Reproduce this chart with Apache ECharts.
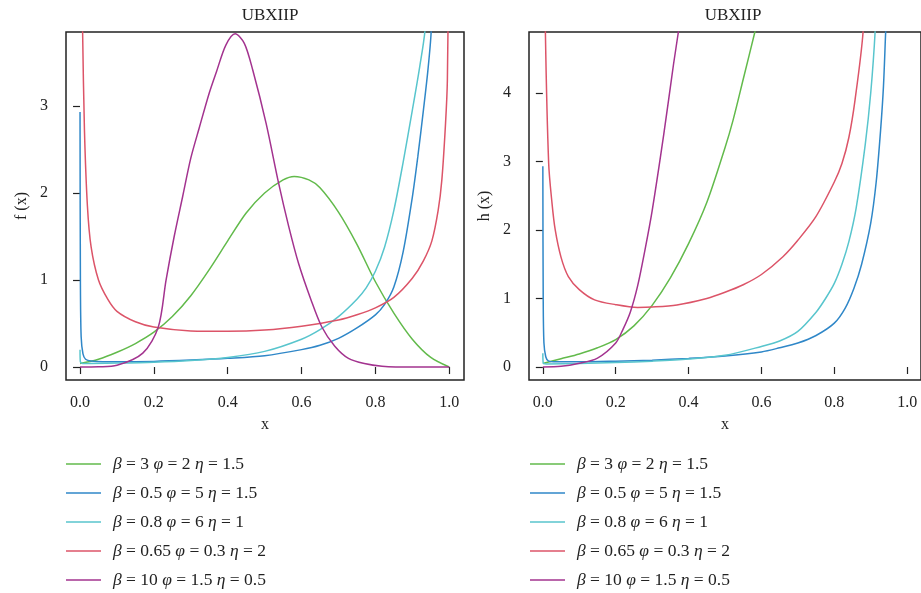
<!DOCTYPE html>
<html>
<head>
<meta charset="utf-8">
<script src="https://cdn.jsdelivr.net/npm/echarts@6/dist/echarts.min.js"></script>
<style>
  html, body { margin: 0; padding: 0; background: #fff; }
  #main { width: 921px; height: 593px; }
</style>
</head>
<body>
<div id="main"></div>
<script>
// 参数 (legend labels)
const betas = ['3', '0.5', '0.8', '0.65', '10'];
const phis = ['2', '5', '6', '0.3', '1.5'];
const etas = ['1.5', '1.5', '1', '2', '0.5'];
const colors = ['#62ba4b', '#2f87c8', '#58c5cd', '#dc5468', '#a3338f'];
const xTicks = [0, 0.2, 0.4, 0.6, 0.8, 1.0];
const fTicks = [0, 1, 2, 3];
const hTicks = [0, 1, 2, 3, 4];

// density f(x)
const fGreen = [[0,0.04],[0.05,0.09],[0.1,0.17],[0.15,0.27],[0.2,0.4],[0.25,0.58],[0.3,0.82],[0.35,1.12],[0.4,1.45],[0.45,1.77],[0.5,2.0],[0.55,2.15],[0.58,2.19],[0.62,2.15],[0.65,2.06],[0.7,1.78],[0.75,1.41],[0.8,0.98],[0.85,0.62],[0.9,0.32],[0.95,0.11],[1.0,0.0]];
const fBlue = [[0,2.93],[0.001,1.0],[0.003,0.35],[0.008,0.15],[0.015,0.09],[0.03,0.07],[0.1,0.06],[0.2,0.065],[0.3,0.08],[0.4,0.1],[0.5,0.13],[0.6,0.2],[0.65,0.25],[0.7,0.33],[0.75,0.45],[0.8,0.6],[0.825,0.72],[0.85,0.92],[0.875,1.32],[0.9,1.95],[0.915,2.42],[0.93,2.95],[0.942,3.4],[0.951,3.85],[0.96,5]];
const fCyan = [[0,0.2],[0.001,0.06],[0.01,0.04],[0.1,0.045],[0.2,0.055],[0.3,0.075],[0.4,0.11],[0.5,0.18],[0.6,0.32],[0.65,0.43],[0.7,0.58],[0.75,0.78],[0.775,0.91],[0.8,1.1],[0.825,1.38],[0.85,1.8],[0.875,2.35],[0.9,2.95],[0.92,3.45],[0.935,3.9],[0.945,5]];
const fRed = [[0.003,5],[0.007,3.85],[0.012,2.72],[0.02,1.85],[0.03,1.38],[0.05,1.0],[0.075,0.78],[0.1,0.64],[0.15,0.52],[0.2,0.46],[0.3,0.415],[0.4,0.41],[0.5,0.425],[0.6,0.47],[0.7,0.54],[0.75,0.6],[0.8,0.68],[0.85,0.8],[0.9,1.02],[0.93,1.22],[0.953,1.45],[0.97,1.8],[0.98,2.15],[0.99,2.8],[0.995,3.3],[0.999,5]];
const fPurple = [[0,0],[0.05,0.003],[0.1,0.02],[0.17,0.16],[0.212,0.46],[0.233,1.0],[0.255,1.5],[0.278,1.96],[0.3,2.4],[0.323,2.75],[0.35,3.15],[0.37,3.4],[0.395,3.7],[0.42,3.83],[0.445,3.72],[0.468,3.41],[0.504,2.8],[0.538,2.11],[0.565,1.62],[0.592,1.19],[0.625,0.78],[0.655,0.46],[0.69,0.24],[0.727,0.1],[0.77,0.04],[0.818,0.01],[0.9,0],[1.0,0]];

// hazard h(x)
const hGreen = [[0,0.05],[0.05,0.12],[0.1,0.19],[0.15,0.28],[0.2,0.4],[0.25,0.6],[0.3,0.9],[0.35,1.3],[0.4,1.8],[0.45,2.4],[0.5,3.2],[0.522,3.6],[0.55,4.2],[0.582,4.89],[0.6,5.3]];
const hBlue = [[0,2.93],[0.001,1.0],[0.003,0.35],[0.008,0.15],[0.015,0.09],[0.03,0.075],[0.1,0.075],[0.2,0.085],[0.3,0.1],[0.4,0.125],[0.5,0.16],[0.6,0.22],[0.65,0.28],[0.7,0.35],[0.75,0.46],[0.8,0.64],[0.83,0.86],[0.854,1.15],[0.875,1.5],[0.9,2.1],[0.915,2.7],[0.927,3.45],[0.935,4.1],[0.941,4.89],[0.95,6]];
const hCyan = [[0,0.2],[0.001,0.06],[0.01,0.045],[0.1,0.05],[0.2,0.065],[0.3,0.085],[0.4,0.115],[0.5,0.17],[0.6,0.3],[0.65,0.38],[0.7,0.52],[0.75,0.8],[0.776,1.0],[0.8,1.22],[0.821,1.5],[0.84,1.83],[0.86,2.32],[0.885,3.25],[0.9,4.0],[0.912,4.89],[0.92,6]];
const hRed = [[0.003,7],[0.007,4.89],[0.016,2.97],[0.025,2.4],[0.034,2.0],[0.05,1.6],[0.07,1.32],[0.1,1.13],[0.142,0.98],[0.2,0.91],[0.26,0.87],[0.3,0.875],[0.368,0.905],[0.45,1.0],[0.5,1.09],[0.55,1.2],[0.6,1.35],[0.659,1.61],[0.7,1.85],[0.749,2.19],[0.8,2.7],[0.821,2.97],[0.84,3.35],[0.857,3.9],[0.879,4.89],[0.9,7]];
const hPurple = [[0,0],[0.05,0.01],[0.097,0.05],[0.15,0.13],[0.2,0.35],[0.22,0.55],[0.24,0.8],[0.26,1.18],[0.28,1.7],[0.3,2.28],[0.332,3.4],[0.359,4.43],[0.372,4.89],[0.39,5.6]];

const names = betas.map((b, i) => 'β = ' + b + ' φ = ' + phis[i] + ' η = ' + etas[i]);
const fData = [fGreen, fBlue, fCyan, fRed, fPurple];
const hData = [hGreen, hBlue, hCyan, hRed, hPurple];

const serif = 'Liberation Serif';
const txt = '#222';

function xAxisFor(idx, max) {
  return {
    type: 'value', gridIndex: idx, min: -0.038, max: max,
    name: 'x', nameLocation: 'middle', nameGap: 37,
    nameTextStyle: { fontFamily: serif, fontSize: 16, color: txt },
    axisLine: { show: false },
    splitLine: { show: false },
    axisTick: { show: true, length: 7, lineStyle: { color: '#222', width: 1.2 }, customValues: xTicks },
    axisLabel: { fontFamily: serif, fontSize: 16, color: txt, margin: 15,
      customValues: xTicks, formatter: v => v.toFixed(1) }
  };
}
function yAxisFor(idx, min, max, ticks, label) {
  return {
    type: 'value', gridIndex: idx, min: min, max: max,
    name: label, nameLocation: 'middle', nameGap: 36, nameRotate: 90,
    nameTextStyle: { fontFamily: serif, fontSize: 16, color: txt },
    axisLine: { show: false },
    splitLine: { show: false },
    axisTick: { show: true, length: 7, lineStyle: { color: '#222', width: 1.2 }, customValues: ticks },
    axisLabel: { fontFamily: serif, fontSize: 16, color: txt, margin: 18, customValues: ticks }
  };
}

const series = [];
[fData, hData].forEach((set, g) => {
  set.forEach((d, i) => {
    series.push({
      name: names[i], type: 'line', xAxisIndex: g, yAxisIndex: g,
      data: d, symbol: 'none', smooth: 0.3,
      lineStyle: { color: colors[i], width: 1.5 }, itemStyle: { color: colors[i] },
      clip: true, z: 2 + i
    });
  });
});

function legendFor(left) {
  return {
    data: names, orient: 'vertical', left: left, top: 455, padding: 0,
    icon: 'path://M0 0H100V4H0Z', itemWidth: 35, itemHeight: 1.5,
    itemGap: 11, selectedMode: false,
    formatter: n => n.replace(/([βφη])/g, '{g|$1}'),
    textStyle: { fontFamily: serif, fontSize: 17.5, color: txt, padding: [0, 0, 0, 7], lineHeight: 17.3,
      rich: { g: { fontFamily: serif, fontSize: 17.5, fontStyle: 'italic', color: txt, lineHeight: 17.3 } } }
  };
}

const chart = echarts.init(document.getElementById('main'), null, { renderer: 'canvas' });
chart.setOption({
  backgroundColor: '#fff',
  animation: false,
  title: [
    { text: 'UBXIIP', left: 265, top: 2, textAlign: 'center',
      textStyle: { fontFamily: serif, fontSize: 17, fontWeight: 'normal', color: txt } },
    { text: 'UBXIIP', left: 728, top: 2, textAlign: 'center',
      textStyle: { fontFamily: serif, fontSize: 17, fontWeight: 'normal', color: txt } }
  ],
  grid: [
    { left: 66, top: 32, width: 398, height: 348, show: true, borderColor: '#222', borderWidth: 1.5, backgroundColor: 'transparent' },
    { left: 529, top: 32, width: 398, height: 348, show: true, borderColor: '#222', borderWidth: 1.5, backgroundColor: 'transparent' }
  ],
  xAxis: [xAxisFor(0, 1.04), xAxisFor(1, 1.038)],
  yAxis: [yAxisFor(0, -0.149, 3.85, fTicks, 'f (x)'), yAxisFor(1, -0.19, 4.89, hTicks, 'h (x)')],
  legend: [legendFor(66), legendFor(530)],
  series: series
});
</script>
</body>
</html>
